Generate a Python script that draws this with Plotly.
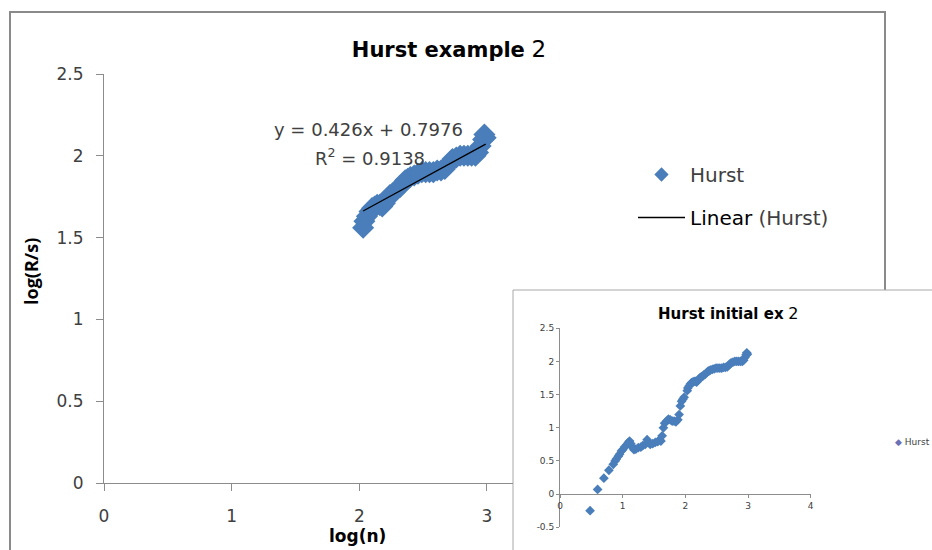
import plotly.graph_objects as go

W, H = 932, 550

# ---- data ----
log_n = [0.48, 0.60, 0.70, 0.78, 0.85, 0.88, 0.90, 0.93, 0.95, 0.98,
         1.00, 1.03, 1.06, 1.09, 1.11, 1.13, 1.15, 1.18, 1.21, 1.25,
         1.29, 1.32, 1.36, 1.39, 1.41, 1.44, 1.48, 1.52, 1.56, 1.59,
         1.61, 1.63, 1.65, 1.67, 1.70, 1.73, 1.76, 1.79, 1.82, 1.85,
         1.88, 1.90, 1.92, 1.94, 1.96, 1.98,
         2.03, 2.04, 2.06, 2.08, 2.10, 2.12, 2.14, 2.16, 2.18, 2.20,
         2.22, 2.24, 2.26, 2.28, 2.30, 2.32, 2.34, 2.36, 2.38, 2.40,
         2.43, 2.46, 2.49, 2.52, 2.55, 2.58, 2.61, 2.64, 2.67, 2.69,
         2.71, 2.73, 2.76, 2.79, 2.82, 2.85, 2.88, 2.91, 2.93, 2.95,
         2.97, 2.98, 2.99]
log_rs = [-0.25, 0.07, 0.24, 0.36, 0.45, 0.50, 0.53, 0.57, 0.60, 0.65,
          0.67, 0.71, 0.74, 0.78, 0.80, 0.76, 0.71, 0.67, 0.68, 0.70,
          0.71, 0.73, 0.75, 0.82, 0.78, 0.75, 0.76, 0.78, 0.79, 0.82,
          0.80, 0.88, 1.00, 1.07, 1.10, 1.13, 1.12, 1.10, 1.10, 1.09,
          1.12, 1.20, 1.33, 1.40, 1.43, 1.46,
          1.56, 1.60, 1.63, 1.66, 1.68, 1.69, 1.70, 1.70, 1.69, 1.71,
          1.74, 1.76, 1.77, 1.78, 1.80, 1.81, 1.83, 1.85, 1.86, 1.87,
          1.88, 1.89, 1.90, 1.90, 1.90, 1.90, 1.91, 1.91, 1.92, 1.94,
          1.96, 1.98, 1.99, 2.00, 2.00, 2.00, 2.00, 2.00, 2.02, 2.06,
          2.10, 2.13, 2.11]

main_min_log_n = 2.0          # main chart shows only log(n) >= 2
trend_slope = 0.426
trend_intercept = 0.7976
r_squared = 0.9138

main_xticks = [0, 1, 2, 3]
main_yticks = [0, 0.5, 1, 1.5, 2, 2.5]
main_yticklabels = ["0", "0.5", "1", "1.5", "2", "2.5"]
inset_xticks = [0, 1, 2, 3, 4]
inset_yticks = [-0.5, 0, 0.5, 1, 1.5, 2, 2.5]
inset_yticklabels = ["-0.5", "0", "0.5", "1", "1.5", "2", "2.5"]

# ---- derived ----
main_x = [x for x in log_n if x >= main_min_log_n]
main_y = [y for x, y in zip(log_n, log_rs) if x >= main_min_log_n]
trend_x = [min(main_x), max(main_x)]
trend_y = [trend_slope * v + trend_intercept for v in trend_x]

BLUE = "#4A7EBB"
AXIS = "#8C8C8C"
TXT = "#404040"
FONT = "DejaVu Sans"


def px(x):
    return x / W


def py(y):
    return 1 - y / H


inset_ydom = [py(527.3), py(328.3)]
inset_yrange = [-0.5, 2.5]
inset_xpos = inset_ydom[0] + (0 - inset_yrange[0]) / (inset_yrange[1] - inset_yrange[0]) * (inset_ydom[1] - inset_ydom[0])

fig = go.Figure()
fig.add_trace(go.Scatter(
    x=main_x, y=main_y, mode="markers", name="Hurst", showlegend=False,
    marker=dict(symbol="diamond", size=17, color=BLUE, line=dict(width=0)),
    xaxis="x", yaxis="y"))
# legend key for the series (no data of its own)
fig.add_trace(go.Scatter(
    x=[None], y=[None], mode="markers", name="Hurst", legendgroup="a",
    marker=dict(symbol="diamond", size=11, color=BLUE, line=dict(width=0)),
    xaxis="x", yaxis="y"))
fig.add_trace(go.Scatter(
    x=trend_x, y=trend_y, mode="lines",
    name="<span style='color:#000000'>Linear</span> (Hurst)", legendgroup="b",
    line=dict(color="black", width=1.3), xaxis="x", yaxis="y"))
fig.add_trace(go.Scatter(
    x=log_n, y=log_rs, mode="markers", name="Hurst", showlegend=False,
    marker=dict(symbol="diamond", size=7.5, color=BLUE, line=dict(width=0)),
    xaxis="x2", yaxis="y2"))

fig.update_layout(
    width=W, height=H, margin=dict(l=0, r=0, t=0, b=0, pad=0, autoexpand=False),
    autosize=False,
    paper_bgcolor="white", plot_bgcolor="white",
    font=dict(family=FONT, color=TXT),
    title=dict(text="<b>Hurst example</b> <span style='font-size:23px'>2</span>",
               x=px(449), y=py(50), xanchor="center", yanchor="middle",
               xref="paper", yref="paper", automargin=False,
               font=dict(family=FONT, size=21, color="black")),
    xaxis=dict(domain=[px(104), px(513)], range=[0, (513 - 104) / 127.65],
               tickvals=main_xticks, ticks="outside", ticklen=7, tickcolor=AXIS,
               showline=True, linecolor=AXIS, linewidth=1, showgrid=False, zeroline=False,
               tickfont=dict(family=FONT, size=17, color=TXT), ticklabelstandoff=11,
               anchor="y", automargin=False),
    yaxis=dict(domain=[py(483), py(74)], range=[0, 2.5],
               tickvals=main_yticks, ticktext=main_yticklabels,
               ticks="outside", ticklen=7, tickcolor=AXIS,
               showline=True, linecolor=AXIS, linewidth=1, showgrid=False, zeroline=False,
               tickfont=dict(family=FONT, size=17, color=TXT), ticklabelstandoff=9,
               anchor="x", automargin=False),
    xaxis2=dict(domain=[px(560), px(810.7)], range=[0, 4],
                tickvals=inset_xticks, ticks="outside", ticklen=3, tickcolor=AXIS,
                showline=True, linecolor=AXIS, linewidth=1, showgrid=False, zeroline=False,
                tickfont=dict(family=FONT, size=9, color=TXT),
                anchor="free", position=inset_xpos, automargin=False),
    yaxis2=dict(domain=inset_ydom, range=inset_yrange,
                tickvals=inset_yticks, ticktext=inset_yticklabels,
                ticks="outside", ticklen=3, tickcolor=AXIS,
                showline=True, linecolor=AXIS, linewidth=1, showgrid=False, zeroline=False,
                tickfont=dict(family=FONT, size=9, color=TXT),
                anchor="x2", automargin=False),
    legend=dict(x=px(633), y=py(155), xanchor="left", yanchor="top",
                bgcolor="rgba(0,0,0,0)", borderwidth=0, itemwidth=47,
                itemsizing="trace", tracegroupgap=14,
                font=dict(family=FONT, size=20, color=TXT)),
    showlegend=True,
    shapes=[
        dict(type="rect", xref="paper", yref="paper", x0=px(10), x1=px(885),
             y0=py(12), y1=py(570), line=dict(color="#8A8A8A", width=2),
             fillcolor="rgba(0,0,0,0)", layer="below"),
        dict(type="rect", xref="paper", yref="paper", x0=px(513), x1=px(945),
             y0=py(290), y1=py(570), line=dict(color="#A8A8A8", width=1),
             fillcolor="white", layer="below"),
    ],
    annotations=[
        dict(text=f"y = {trend_slope}x + {trend_intercept}", x=px(368), y=py(130),
             xref="paper", yref="paper", showarrow=False, xanchor="center", yanchor="middle",
             font=dict(family=FONT, size=18, color=TXT)),
        dict(text=f"R<sup>2</sup> = {r_squared}", x=px(370), y=py(157),
             xref="paper", yref="paper", showarrow=False, xanchor="center", yanchor="middle",
             font=dict(family=FONT, size=18, color=TXT)),
        dict(text="<b>log(R/s)</b>", x=px(31), y=py(272), textangle=-90,
             xref="paper", yref="paper", showarrow=False, xanchor="center", yanchor="middle",
             font=dict(family="Open Sans", size=18, color="black")),
        dict(text="<b>log(n)</b>", x=px(357), y=py(536),
             xref="paper", yref="paper", showarrow=False, xanchor="center", yanchor="middle",
             font=dict(family=FONT, size=17, color="black")),
        dict(text="<b>Hurst initial ex</b> <span style='font-size:16px'>2</span>",
             x=px(728), y=py(313),
             xref="paper", yref="paper", showarrow=False, xanchor="center", yanchor="middle",
             font=dict(family=FONT, size=15, color="black")),
        dict(text="<span style='color:#6B6FB5'>\u25C6</span> Hurst", x=px(893), y=py(441.5),
             xref="paper", yref="paper", showarrow=False, xanchor="left", yanchor="middle",
             font=dict(family=FONT, size=9, color=TXT)),
    ],
)

fig.write_html("out.html", config={"displayModeBar": False},
               post_script="document.body.style.margin='0';document.body.style.overflow='hidden';")
